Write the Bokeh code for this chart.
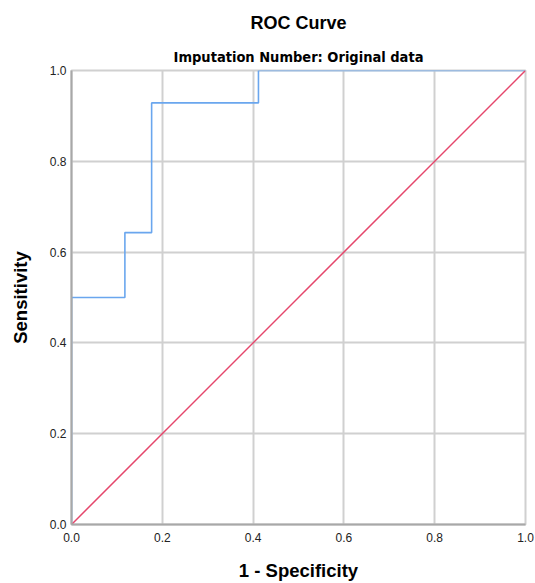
from bokeh.plotting import figure
from bokeh.models import Title, FixedTicker, Range1d, PrintfTickFormatter
from bokeh.embed import file_html
from bokeh.resources import INLINE

# ROC curve data (1 - specificity, sensitivity)
fpr = [0.0, 0.0, 0.1176, 0.1176, 0.1765, 0.1765, 0.4118, 0.4118, 1.0]
tpr = [0.0, 0.5, 0.5, 0.6429, 0.6429, 0.9286, 0.9286, 1.0, 1.0]
ref_x = [0.0, 1.0]
ref_y = [0.0, 1.0]
ticks = [0.0, 0.2, 0.4, 0.6, 0.8, 1.0]

p = figure(width=535, height=583, output_backend="svg", toolbar_location=None,
           x_range=Range1d(0, 1), y_range=Range1d(0, 1), title=None,
           min_border_left=71, min_border_right=10, min_border_top=70, min_border_bottom=59)

p.add_layout(Title(text="Imputation Number: Original data", align="center",
                   text_font="'DejaVu Sans Condensed', 'Liberation Sans'", text_font_size="14.5px",
                   text_font_style="bold", text_color="#000000", standoff=11), "above")
p.add_layout(Title(text="ROC Curve", align="center", text_font="Liberation Sans",
                   text_font_size="18px", text_font_style="bold",
                   text_color="#000000", standoff=17), "above")

p.line(fpr, tpr, line_color="#6aa6ee", line_width=1.6)
p.line(ref_x, ref_y, line_color="#e5476c", line_width=1.5)

for ax in (p.xaxis, p.yaxis):
    ax.ticker = FixedTicker(ticks=ticks)
    ax.major_tick_out = 0
    ax.major_tick_in = 0
    ax.minor_tick_out = 0
    ax.minor_tick_in = 0
    ax.axis_line_color = "#a8a8a8"
    ax.axis_line_width = 2
    ax.major_label_text_font = "Liberation Sans"
    ax.major_label_text_font_size = "12px"
    ax.major_label_text_color = "#222222"
    ax.axis_label_text_font = "Liberation Sans"
    ax.axis_label_text_font_size = "18.5px"
    ax.axis_label_text_font_style = "bold"
    ax.axis_label_text_color = "#000000"
    ax.formatter = PrintfTickFormatter(format="%.1f")

p.xaxis.axis_label = "1 - Specificity"
p.yaxis.axis_label = "Sensitivity"
p.xaxis.major_label_standoff = 8
p.yaxis.major_label_standoff = 5
p.xaxis.axis_label_standoff = 15
p.yaxis.axis_label_standoff = 16

p.grid.ticker = FixedTicker(ticks=ticks)
p.grid.grid_line_color = "#d0d0d0"
p.grid.grid_line_width = 2
p.outline_line_color = "#d0d0d0"
p.outline_line_width = 2
p.background_fill_color = "white"
p.border_fill_color = "white"

open("out.html", "w").write(file_html(p, INLINE))
